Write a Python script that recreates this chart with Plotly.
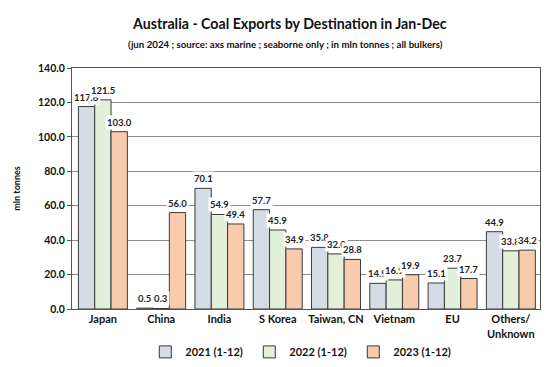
import plotly.graph_objects as go

categories = ["Japan", "China", "India", "S Korea", "Taiwan, CN", "Vietnam", "EU", "Others/<br>Unknown"]
series_names = ["2021 (1-12)", "2022 (1-12)", "2023 (1-12)"]
v2021 = [117.6, 0.5, 70.1, 57.7, 35.8, 14.9, 15.1, 44.9]
v2022 = [121.5, 0.3, 54.9, 45.9, 32.0, 16.9, 23.7, 33.8]
v2023 = [103.0, 56.0, 49.4, 34.9, 28.8, 19.9, 17.7, 34.2]
colors = ["#D6DCE5", "#E2F0D9", "#F8CBAD"]
series = [v2021, v2022, v2023]

W, H = 556, 367
ml, mr, mt, mb = 72, 16, 68, 58
bargap = 0.16
font_fam = "Lato, 'Open Sans', sans-serif"

fig = go.Figure()
for name, vals, col in zip(series_names, series, colors):
    fig.add_trace(go.Bar(
        x=categories, y=vals, name=name,
        marker=dict(color=col, line=dict(color="#3A3A3A", width=1)),
    ))

plot_w = W - ml - mr
plot_h = H - mt - mb
cat_w = plot_w / len(categories)
bar_w = cat_w * (1 - bargap) / len(series)
for i, vals in enumerate(series):
    off = (i - (len(series) - 1) / 2) * bar_w
    for c, v in zip(categories, vals):
        fig.add_annotation(
            x=c, y=v, xref="x", yref="y", text=f"{v:.1f}",
            showarrow=False, xshift=off, yshift=2, yanchor="bottom",
            bgcolor="white", borderpad=1,
            font=dict(family=font_fam, size=9.5, color="#222222", weight="bold"),
        )

fig.add_annotation(
    text="<b>Australia - Coal Exports by Destination in Jan-Dec</b>",
    xref="paper", yref="paper", x=(289 - ml) / plot_w, y=1 + (mt - 24) / plot_h,
    xanchor="center", yanchor="middle", showarrow=False,
    font=dict(family=font_fam, size=14.2, color="#111111"),
)
fig.add_annotation(
    text="<b>(jun 2024 ; source: axs marine ; seaborne only ; in mln tonnes ; all bulkers)</b>",
    xref="paper", yref="paper", x=(285 - ml) / plot_w, y=1 + (mt - 44) / plot_h,
    xanchor="center", yanchor="middle", showarrow=False,
    font=dict(family=font_fam, size=9.7, color="#111111"),
)

fig.update_layout(
    width=W, height=H,
    margin=dict(l=ml, r=mr, t=mt, b=mb, autoexpand=False),
    paper_bgcolor="white", plot_bgcolor="white",
    barmode="group", bargap=bargap, bargroupgap=0,
    font=dict(family=font_fam, color="#111111"),
    showlegend=True,
    legend=dict(orientation="h", x=0.49, xanchor="center", y=-0.178, yanchor="middle",
                font=dict(size=11, weight="bold"), itemwidth=30, traceorder="normal",
                entrywidth=59),
    yaxis=dict(
        range=[0, 140], dtick=20, tickformat=".1f",
        showgrid=True, gridcolor="#8C8C8C", gridwidth=1,
        showline=True, linecolor="#555555", mirror=True,
        ticks="outside", ticklen=4, tickcolor="#555555",
        tickfont=dict(size=10.5, weight="bold"),
        title=dict(text="<b>mln tonnes</b>", font=dict(size=9), standoff=15),
        zeroline=False, automargin=False,
    ),
    xaxis=dict(
        showline=True, linecolor="#555555", mirror=True,
        tickfont=dict(size=11, weight="bold"),
        ticks="", automargin=False,
    ),
)

fig.write_html("out.html", config={"displayModeBar": False},
               post_script="document.body.style.margin='0px';document.body.style.overflow='hidden';")
